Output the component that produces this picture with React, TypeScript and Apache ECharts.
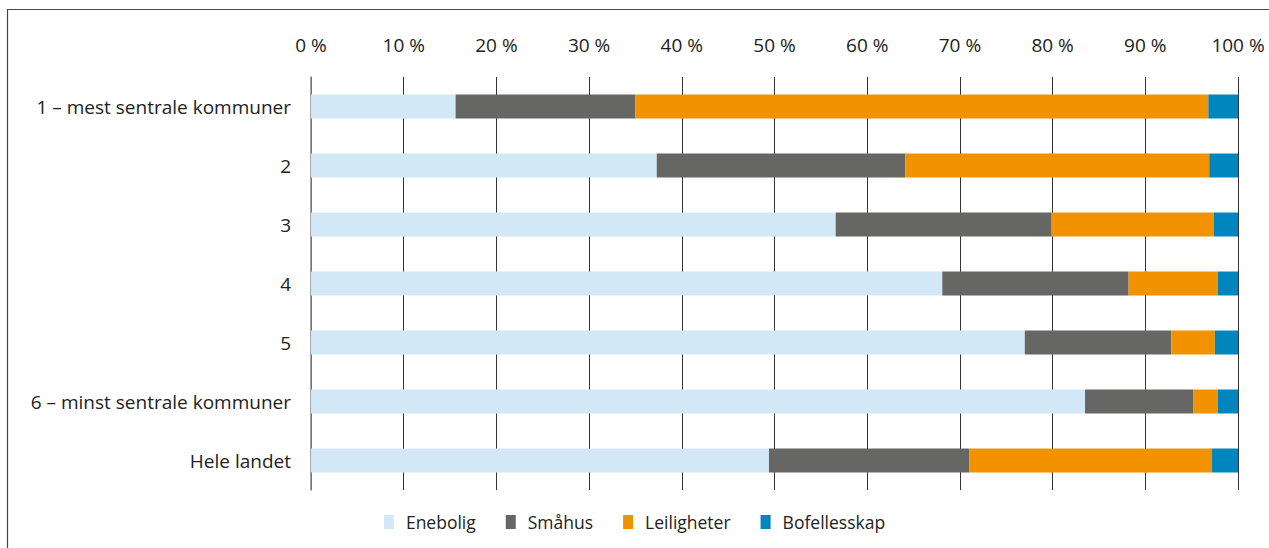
import React, { useEffect, useRef } from "react";
import * as echarts from "echarts";

const categories = [
  "1 – mest sentrale kommuner",
  "2",
  "3",
  "4",
  "5",
  "6 – minst sentrale kommuner",
  "Hele landet",
];
const enebolig = [15.6, 37.3, 56.6, 68.1, 77.0, 83.5, 49.4];
const smahus = [19.4, 26.8, 23.3, 20.1, 15.8, 11.7, 21.6];
const leiligheter = [61.8, 32.8, 17.5, 9.6, 4.7, 2.6, 26.2];
const bofellesskap = [3.2, 3.1, 2.6, 2.2, 2.5, 2.2, 2.8];

const seriesNames = ["Enebolig", "Småhus", "Leiligheter", "Bofellesskap"];
const colors = ["#d2e8f7", "#666664", "#f39200", "#0086be"];

const FONT = "'Open Sans', sans-serif";

export default function App() {
  const ref = useRef<HTMLDivElement>(null);
  useEffect(() => {
    if (!ref.current) return;
    const chart = echarts.init(ref.current, null, { renderer: "svg" });
    const data = [enebolig, smahus, leiligheter, bofellesskap];
    chart.setOption({
      animation: false,
      color: colors,
      textStyle: { fontFamily: FONT },
      graphic: [
        {
          type: "rect",
          shape: { x: 7.5, y: 9.5, width: 1400, height: 700 },
          style: { fill: "none", stroke: "#444", lineWidth: 1.2 },
          silent: true,
        },
      ],
      grid: { left: 311, right: 31, top: 77, bottom: 58 },
      xAxis: {
        type: "value",
        position: "top",
        min: 0,
        max: 100,
        interval: 10,
        axisLine: { show: false },
        axisTick: { show: false },
        axisLabel: {
          formatter: "{value} %",
          fontSize: 19,
          color: "#222",
          fontFamily: FONT,
          margin: 23,
        },
        splitLine: { show: true, lineStyle: { color: "#333", width: 1 } },
      },
      yAxis: {
        type: "category",
        data: categories,
        inverse: true,
        axisLine: { show: true, lineStyle: { color: "#888", width: 1.5 } },
        axisTick: { show: false },
        axisLabel: { fontSize: 19, color: "#222", fontFamily: FONT, margin: 20 },
      },
      legend: {
        left: "center",
        top: 506,
        icon: "rect",
        itemWidth: 10,
        itemHeight: 14,
        itemGap: 30,
        data: seriesNames,
        textStyle: {
          fontSize: 17.5,
          color: "#222",
          fontFamily: FONT,
          padding: [0, 0, 0, 7],
          lineHeight: 22,
        },
      },
      series: seriesNames.map((name, i) => ({
        name,
        type: "bar",
        stack: "total",
        barWidth: 24,
        data: data[i],
        itemStyle: { color: colors[i] },
      })),
    });
    return () => chart.dispose();
  }, []);
  return (
    <div
      ref={ref}
      style={{ position: "fixed", left: 0, top: 0, width: 1269, height: 548, background: "#fff" }}
    />
  );
}
